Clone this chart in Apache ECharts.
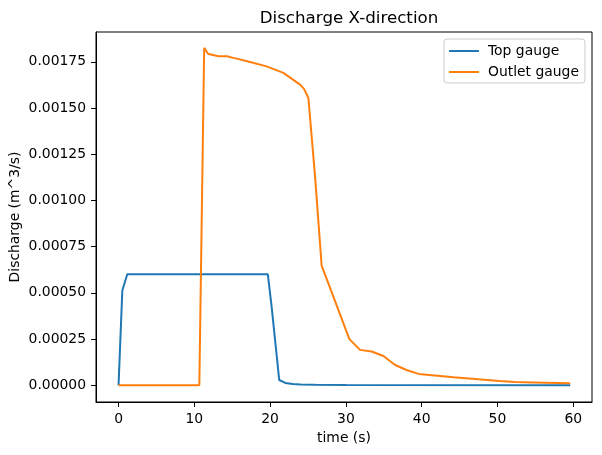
<!DOCTYPE html>
<html>
<head>
<meta charset="utf-8">
<script src="https://cdn.jsdelivr.net/npm/echarts@6/dist/echarts.min.js"></script>
<style>
  html, body { margin: 0; padding: 0; background: #fff; }
  #chart { width: 602px; height: 455px; }
</style>
</head>
<body>
<div id="chart"></div>
<script>
// Top gauge
const topTime = [0, 0.5, 1.15, 19.7, 20.2, 21.2, 22, 23, 24, 26, 30, 59.6];
const topFlow = [0, 0.000512, 0.0006, 0.0006, 0.000425, 0.000028, 0.000012, 0.000006, 0.000004, 0.000002, 0.000001, 0];

// Outlet gauge
const outletTime = [0, 10.66, 11.3, 11.85, 13.2, 14.3, 15.15, 15.6, 17.35, 19.55, 21.75, 23.95, 24.48, 25.05,
  25.93, 26.8, 30.46, 31.87, 33.4, 34.95, 36.5, 38.0, 39.6, 44.2, 47.5, 50.3, 52.3, 54.7, 59.6];
const outletFlow = [0, 0, 0.001825, 0.001792, 0.00178, 0.00178, 0.001771, 0.001767, 0.001749, 0.001725, 0.00169,
  0.001626, 0.001603, 0.001554, 0.00113, 0.000647, 0.000249, 0.000191, 0.000182, 0.000158, 0.000109, 0.000082,
  0.000061, 0.000043, 0.000032, 0.000023, 0.000017, 0.000015, 0.00001];

const xTicks = [0, 10, 20, 30, 40, 50, 60];
const yTicks = [0, 0.00025, 0.0005, 0.00075, 0.001, 0.00125, 0.0015, 0.00175];

const font = "DejaVu Sans";
const chart = echarts.init(document.getElementById("chart"));

const toPairs = (xs, ys) => xs.map((x, i) => [x, ys[i]]);

const option = {
  animation: false,
  backgroundColor: "#fff",
  textStyle: { fontFamily: font, color: "#000" },
  title: {
    text: "Discharge X-direction",
    left: 344,
    top: 5,
    textAlign: "center",
    textStyle: { fontFamily: font, fontSize: 16.7, fontWeight: "normal", color: "#000" },
  },
  legend: {
    orient: "vertical",
    left: 444,
    top: 39,
    width: 142,
    icon: "rect",
    itemWidth: 30,
    itemHeight: 2,
    itemGap: 7,
    padding: [5, 6, 4, 5],
    borderColor: "#cccccc",
    borderWidth: 1,
    borderRadius: 3,
    backgroundColor: "rgba(255,255,255,0.8)",
    textStyle: { fontFamily: font, fontSize: 13.9, color: "#000", lineHeight: 14, padding: [0, 0, 0, 4] },
    data: ["Top gauge", "Outlet gauge"],
  },
  grid: {
    left: 96,
    right: 10,
    top: 32,
    bottom: 53,
    show: true,
    borderColor: "#000",
    borderWidth: 1,
    outerBoundsMode: "none",
  },
  xAxis: {
    type: "value",
    min: -2.975,
    max: 62.475,
    name: "time (s)",
    nameLocation: "middle",
    nameGap: 29,
    nameMoveOverlap: false,
    nameTextStyle: { fontFamily: font, fontSize: 13.9, color: "#000" },
    axisLine: { show: true, onZero: false, lineStyle: { color: "#000", width: 1 } },
    axisTick: { show: true, length: 5, lineStyle: { color: "#000" }, customValues: xTicks },
    axisLabel: { fontFamily: font, fontSize: 13.9, color: "#000", margin: 10, customValues: xTicks },
    splitLine: { show: false },
  },
  yAxis: {
    type: "value",
    min: -0.000091,
    max: 0.001911,
    name: "Discharge (m^3/s)",
    nameLocation: "middle",
    nameGap: 74,
    nameRotate: 90,
    nameMoveOverlap: false,
    nameTextStyle: { fontFamily: font, fontSize: 13.9, color: "#000" },
    axisLine: { show: true, onZero: false, lineStyle: { color: "#000", width: 1 } },
    axisTick: { show: true, length: 5, lineStyle: { color: "#000" }, customValues: yTicks },
    axisLabel: {
      fontFamily: font, fontSize: 13.9, color: "#000", margin: 10, customValues: yTicks,
      formatter: (v) => v.toFixed(5),
    },
    splitLine: { show: false },
  },
  series: [
    {
      name: "Top gauge",
      type: "line",
      data: toPairs(topTime, topFlow),
      showSymbol: false,
      color: "#1f77b4",
      lineStyle: { width: 2, color: "#1f77b4" },
    },
    {
      name: "Outlet gauge",
      type: "line",
      data: toPairs(outletTime, outletFlow),
      showSymbol: false,
      color: "#ff7f0e",
      lineStyle: { width: 2, color: "#ff7f0e" },
    },
  ],
};

chart.setOption(option);
</script>
</body>
</html>
